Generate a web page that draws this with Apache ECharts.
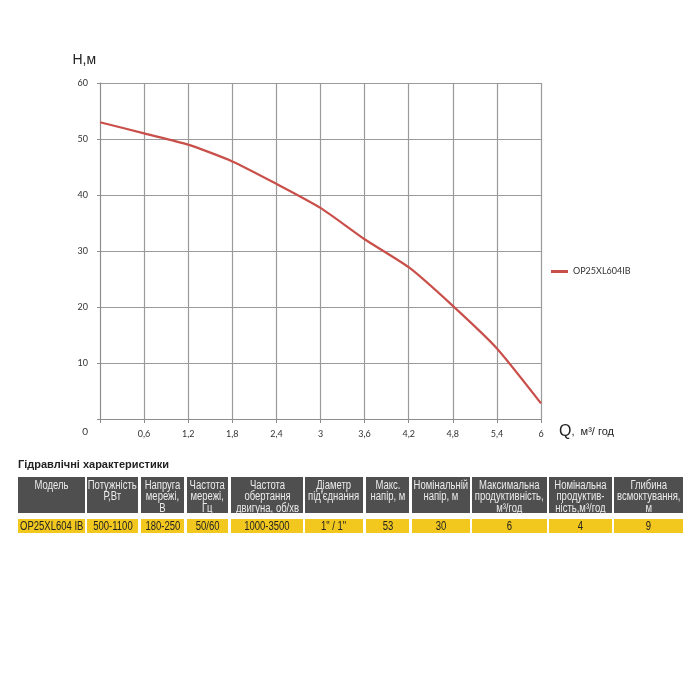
<!DOCTYPE html>
<html>
<head>
<meta charset="utf-8">
<script src="https://cdn.jsdelivr.net/npm/echarts@6/dist/echarts.min.js"></script>
<style>
  body { margin: 0; background: #fff; }
  #chart { position: absolute; left: 0; top: 0; width: 700px; height: 700px; }
  #title { position: absolute; left: 18px; top: 458px; font: bold 11px "Liberation Sans", Arial, sans-serif; color: #222; }
  .cell { position: absolute; box-sizing: border-box; display: flex; justify-content: center; text-align: center; font-family: "Liberation Sans", Arial, sans-serif; white-space: nowrap; }
  .cell span { display: block; flex: none; transform: scaleX(0.76); transform-origin: 50% 50%; }
  .head { background: #4f4f4f; color: #ececec; font-size: 12.5px; line-height: 11.3px; padding-top: 3px; align-items: flex-start; }
  .val { background: #f2c81f; color: #222; font-size: 12.5px; line-height: 14px; align-items: center; }
</style>
</head>
<body>
<div id="chart"></div>
<div id="title">Гідравлічні характеристики</div>
<div id="table"></div>
<script>
// curve: Q, м3/год -> H, м
var flow = [0, 0.6, 1.2, 1.8, 2.4, 3, 3.6, 4.2, 4.8, 5.4, 6];
var head = [53, 51, 49, 46, 42, 37.7, 32.1, 27.1, 20.2, 12.6, 2.8];
var seriesName = 'OP25XL604IB';
var xTickLabels = ['0', '0,6', '1,2', '1,8', '2,4', '3', '3,6', '4,2', '4,8', '5,4', '6'];

// table
var tableHeaders = [
  'Модель',
  'Потужність<br>Р,Вт',
  'Напруга<br>мережі,<br>В',
  'Частота<br>мережі,<br>Гц',
  'Частота<br>обертання<br>двигуна, об/хв',
  'Діаметр<br>під\'єднання',
  'Макс.<br>напір, м',
  'Номінальній<br>напір, м',
  'Максимальна<br>продуктивність,<br>м³/год',
  'Номінальна<br>продуктив-<br>ність,м³/год',
  'Глибина<br>всмоктування,<br>м'
];
var tableRow = ['OP25XL604 IB', '500-1100', '180-250', '50/60', '1000-3500', '1" / 1"', '53', '30', '6', '4', '9'];

// column edges (layout only)
var colLeft = [18, 87, 141, 187, 231, 305, 366, 412, 472, 549, 614];
var colRight = [85, 138, 184, 228, 303, 363, 409, 470, 547, 612, 683];

var tbl = document.getElementById('table');
for (var i = 0; i < tableHeaders.length; i++) {
  var h = document.createElement('div');
  h.className = 'cell head';
  h.style.left = colLeft[i] + 'px';
  h.style.width = (colRight[i] - colLeft[i]) + 'px';
  h.style.top = '477px';
  h.style.height = '36px';
  h.innerHTML = '<span>' + tableHeaders[i] + '</span>';
  tbl.appendChild(h);
  var d = document.createElement('div');
  d.className = 'cell val';
  d.style.left = colLeft[i] + 'px';
  d.style.width = (colRight[i] - colLeft[i]) + 'px';
  d.style.top = '519px';
  d.style.height = '14px';
  var s = document.createElement('span');
  s.textContent = tableRow[i];
  d.appendChild(s);
  tbl.appendChild(d);
}

var myChart = echarts.init(document.getElementById('chart'));
var data = [];
for (var k = 0; k < flow.length; k++) data.push([flow[k], head[k]]);

var option = {
  animation: false,
  textStyle: { fontFamily: 'Lato, "Open Sans", sans-serif' },
  grid: { left: 100, right: 159, top: 83, bottom: 281 },
  legend: {
    left: 546, top: 262,
    itemWidth: 17, itemHeight: 3, itemGap: 4,
    icon: 'rect',
    textStyle: { fontSize: 9, color: '#333' },
    data: [seriesName]
  },
  xAxis: {
    type: 'value', min: 0, max: 6, interval: 0.6,
    name: '{q|Q}{u|,  м³/ год}',
    nameLocation: 'end', nameGap: 18,
    nameTextStyle: {
      padding: [26, 0, 0, 0],
      rich: {
        q: { fontSize: 16, color: '#222', fontFamily: 'Liberation Sans, sans-serif' },
        u: { fontSize: 11, color: '#222', fontFamily: 'Liberation Sans, sans-serif' }
      }
    },
    axisLine: { lineStyle: { color: '#8c8c8c', width: 1 } },
    axisTick: { show: true, length: 4, lineStyle: { color: '#8c8c8c' } },
    axisLabel: {
      fontSize: 9, color: '#333', margin: 11,
      formatter: function (v) {
        var idx = Math.round(v / 0.6);
        return idx === 0 ? '' : xTickLabels[idx];
      }
    },
    splitLine: { show: true, lineStyle: { color: '#9a9a9a', width: 1.2 } }
  },
  yAxis: {
    type: 'value', min: 0, max: 60, interval: 10,
    name: 'Н,м',
    nameLocation: 'end', nameGap: 16,
    nameTextStyle: { fontSize: 14, color: '#222', align: 'right', padding: [0, 4, 0, 0], fontFamily: 'Liberation Sans, sans-serif' },
    axisLine: { show: true, lineStyle: { color: '#8c8c8c', width: 1 } },
    axisTick: { show: true, length: 3, lineStyle: { color: '#8c8c8c' } },
    axisLabel: {
      fontSize: 9, color: '#333', margin: 12,
      formatter: function (v) { return v === 0 ? '{z|0}' : String(v); },
      rich: { z: { fontSize: 10, color: '#333', padding: [26, 0, 0, 0] } }
    },
    splitLine: { show: true, lineStyle: { color: '#9a9a9a', width: 1.2 } }
  },
  series: [{
    name: seriesName,
    type: 'line',
    data: data,
    smooth: 0.2,
    symbol: 'none',
    lineStyle: { color: '#c9504a', width: 2.2 },
    itemStyle: { color: '#c9504a' }
  }]
};
myChart.setOption(option);
</script>
</body>
</html>
